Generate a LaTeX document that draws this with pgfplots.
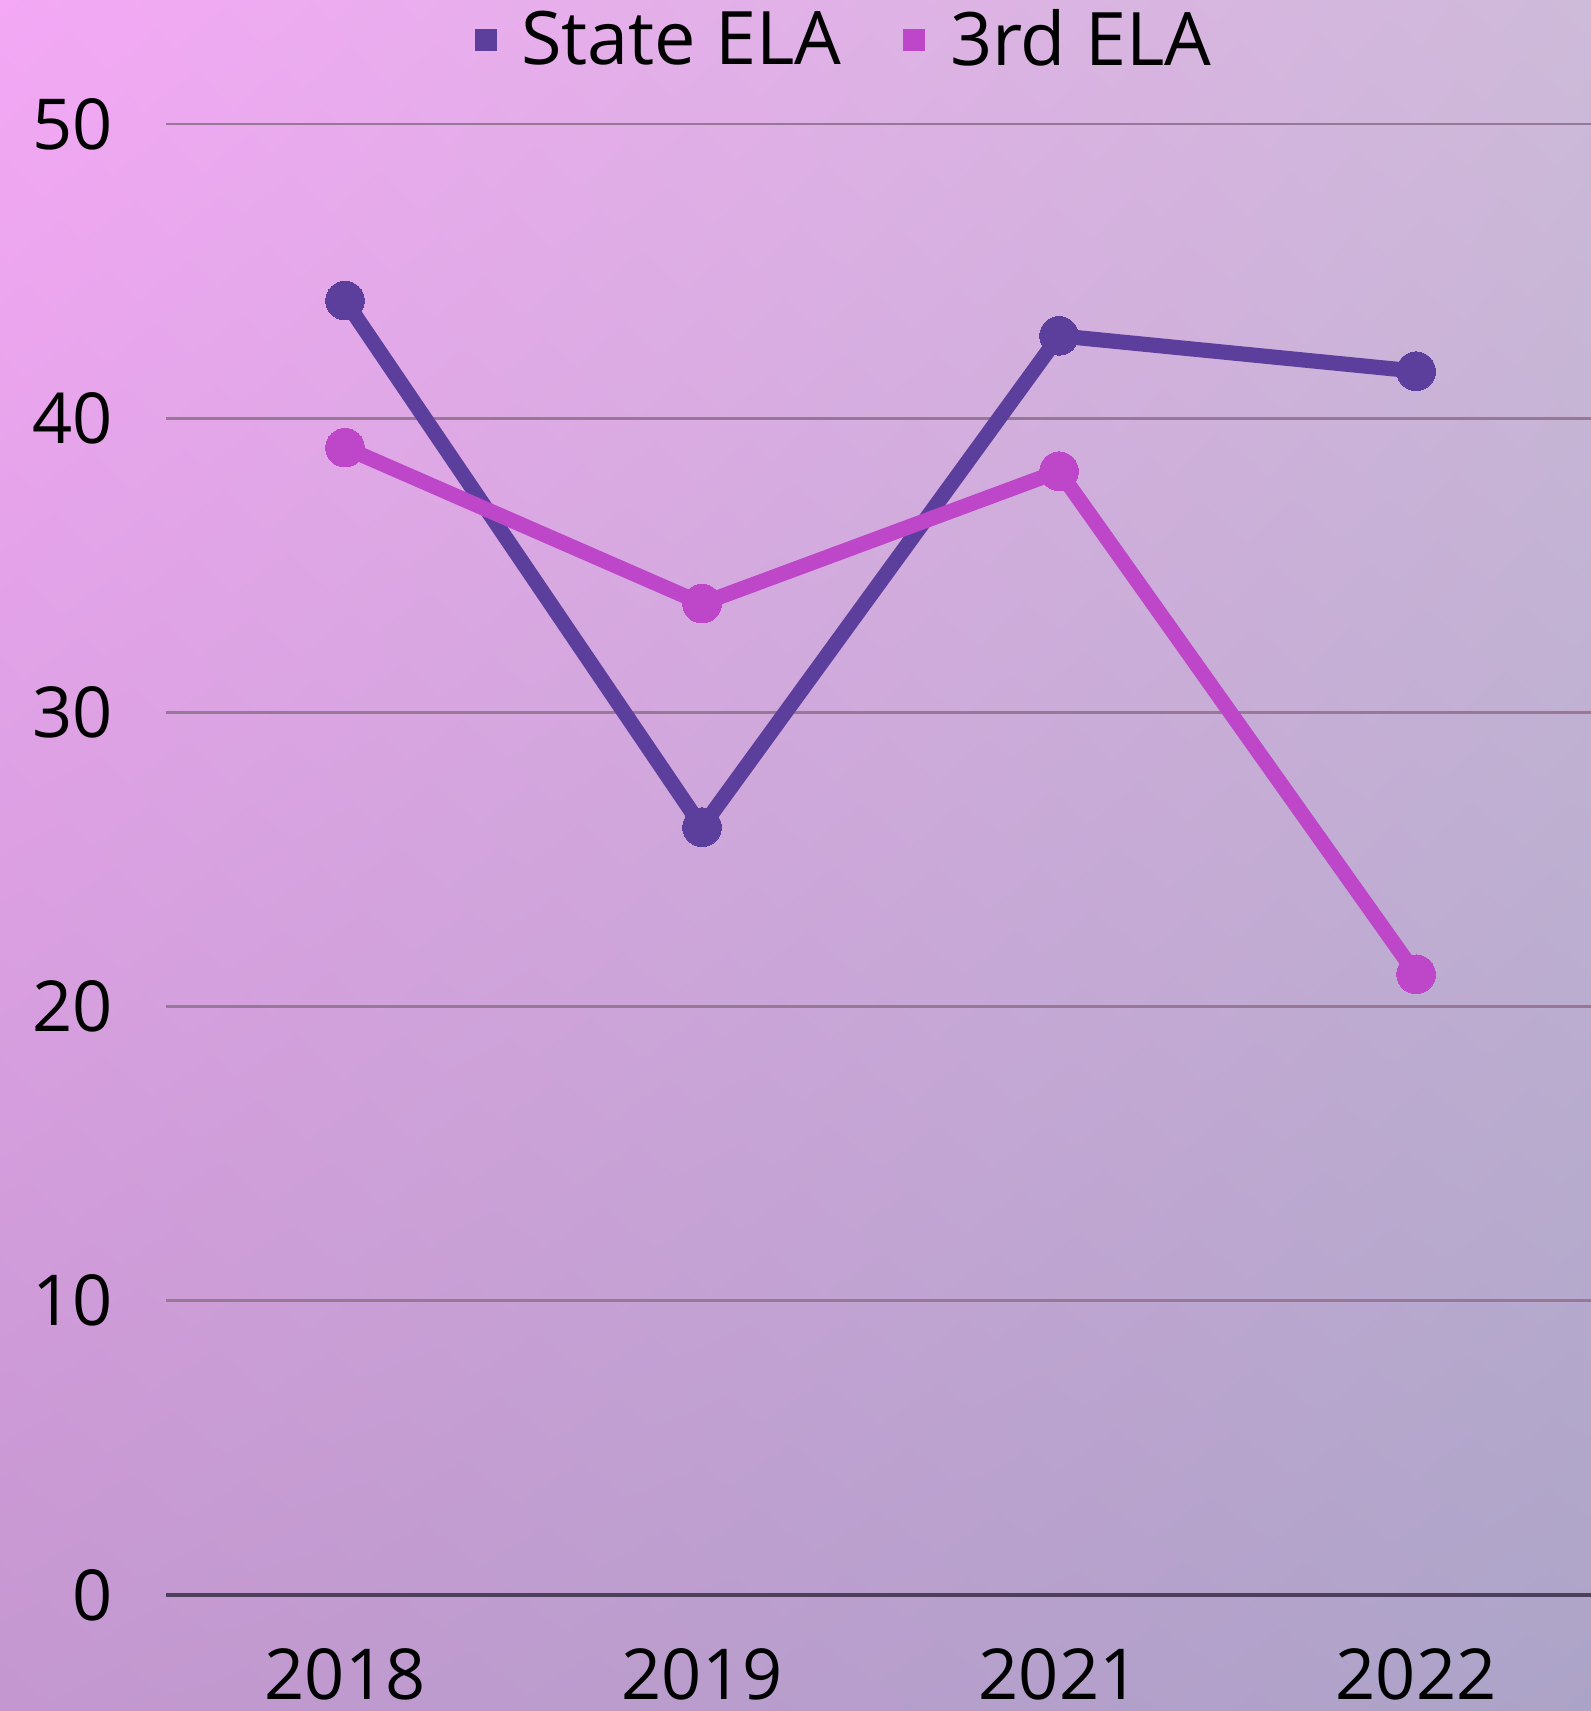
\documentclass[border=0pt]{standalone}
\usepackage{pgfplots}
\pgfplotsset{compat=1.18}
\usepackage{fontspec}
\setmainfont{Open Sans}
\usetikzlibrary{shadings}
\definecolor{stateC}{HTML}{5C3F9C}
\definecolor{thirdC}{HTML}{BE46C9}
\definecolor{gridC}{HTML}{977896}
\definecolor{axisC}{HTML}{4E3F5C}
\begin{document}
\begin{tikzpicture}
\useasboundingbox (-16.65mm,-11.6mm) rectangle (142.45mm,159.5mm);
\shade[lower left={rgb,255:red,196;green,151;blue,208},
       upper left={rgb,255:red,244;green,168;blue,245},
       upper right={rgb,255:red,206;green,186;blue,217},
       lower right={rgb,255:red,172;green,164;blue,200}]
  (-16.65mm,-11.6mm) rectangle (142.45mm,159.5mm);
\begin{axis}[
  at={(0,0)}, anchor=south west,
  scale only axis,
  width=142.45mm, height=147.1mm,
  xmin=-0.5, xmax=3.49, ymin=0, ymax=50,
  xtick={0,1,2,3}, xticklabels={2018,2019,2021,2022},
  ytick={0,10,20,30,40,50},
  axis line style={draw=none},
  ymajorgrids, grid style={gridC, line width=0.8pt},
  major tick length=0pt,
  tick style={draw=none},
  /pgf/number format/assume math mode=true,
  ticklabel style={font=\fontsize{20}{22}\selectfont, text=black},
  xticklabel style={yshift=-4.1mm},
  yticklabel style={xshift=-4.1mm},
  clip=false,
  legend style={at={(0.477,1.057)}, anchor=center, draw=none, fill=none,
    font=\fontsize{21}{23}\selectfont,
    /tikz/every even column/.append style={column sep=5.6mm},
    nodes={inner sep=0.6mm}},
  legend columns=2,
  legend image code/.code={\fill[#1, draw=none] (0mm,-1.1mm) rectangle (2.2mm,1.1mm); \path (3.3mm,0);},
]
\addplot[stateC, line width=4.3pt, mark=*, mark size=5.5pt, mark options={fill=stateC, draw=stateC, line width=0pt}]
  coordinates {(0,44.0) (1,26.1) (2,42.8) (3,41.6)};
\addlegendentry{State ELA}
\addplot[thirdC, line width=4.3pt, mark=*, mark size=5.5pt, mark options={fill=thirdC, draw=thirdC, line width=0pt}]
  coordinates {(0,39.0) (1,33.7) (2,38.2) (3,21.1)};
\addlegendentry{3rd ELA}
\draw[axisC, line width=1.3pt] (axis cs:-0.5,0) -- (axis cs:3.49,0);
\end{axis}
\end{tikzpicture}
\end{document}
